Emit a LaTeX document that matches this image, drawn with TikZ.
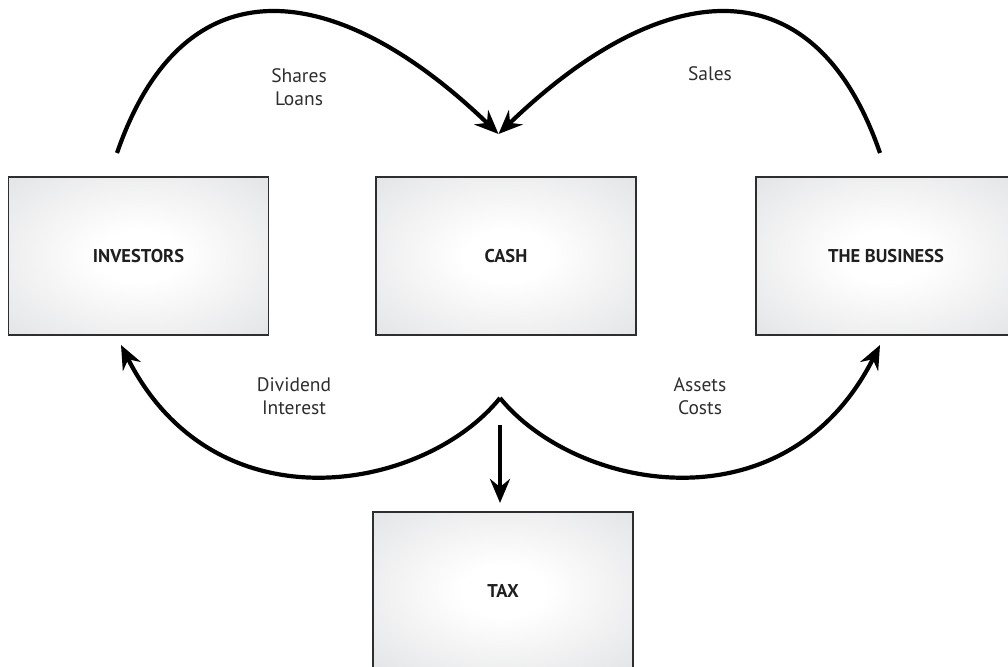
\documentclass[tikz,border=0pt]{standalone}
\usepackage{fontspec}
\setmainfont{PT Sans}
\usetikzlibrary{arrows.meta}
\definecolor{boxedge}{HTML}{2E2E2E}
\definecolor{boxrim}{HTML}{E1E2E4}
\definecolor{labelgray}{HTML}{2E2E2E}
% soft glow: white centre fading to a pale grey rim
\pgfdeclareradialshading{boxglow}{\pgfpoint{0bp}{0bp}}{%
  color(0bp)=(white); color(8bp)=(white); color(38bp)=(boxrim); color(100bp)=(boxrim)}
\begin{document}
\begin{tikzpicture}[x=1pt,y=1pt,
  flowbox/.style={draw=boxedge,line width=1.5pt,shading=boxglow,
    minimum width=260pt,minimum height=158pt,font=\fontsize{18.5}{20}\selectfont\bfseries,
    text=black!88},
  flow/.style={line width=4.2pt,-{Stealth[length=24pt,width=20pt,inset=8pt]}},
  flowlabel/.style={align=center,font=\fontsize{19.5}{23}\selectfont,text=labelgray}]
\useasboundingbox (0,0) rectangle (1008,666);
\clip (0,0) rectangle (1008,666);
% the four boxes
\node[flowbox] (inv) at (138.5,410) {INVESTORS};
\node[flowbox] (cash) at (506,410) {CASH};
\node[flowbox] (biz) at (886,410) {THE BUSINESS};
\node[flowbox] (tax) at (503,75) {TAX};
% curve ends above and below the boxes
\coordinate (invOut) at (117,513);
\coordinate (bizOut) at (880,513);
\coordinate (cashIn) at (498.5,532);
\coordinate (cashOut) at (500,268);
\coordinate (invIn) at (121,321);
\coordinate (bizIn) at (880,321);
\coordinate (taxFrom) at (500,241);
\coordinate (taxTo) at (500,163);
% money in
\draw[flow] (invOut) .. controls (185,710) and (340,685) .. (cashIn);
\draw[flow] (bizOut) .. controls (812,710) and (657,685) .. (cashIn);
% money out
\draw[flow] (cashOut) .. controls (425,175) and (215,135) .. (invIn);
\draw[flow] (cashOut) .. controls (576,175) and (786,135) .. (bizIn);
\draw[flow] (taxFrom) -- (taxTo);
% labels
\node[flowlabel] (l1) at (299,579) {Shares\\Loans};
\node[flowlabel] (l2) at (710,592) {Sales};
\node[flowlabel] (l3) at (294,270) {Dividend\\Interest};
\node[flowlabel] (l4) at (700,270) {Assets\\Costs};
\end{tikzpicture}
\end{document}
